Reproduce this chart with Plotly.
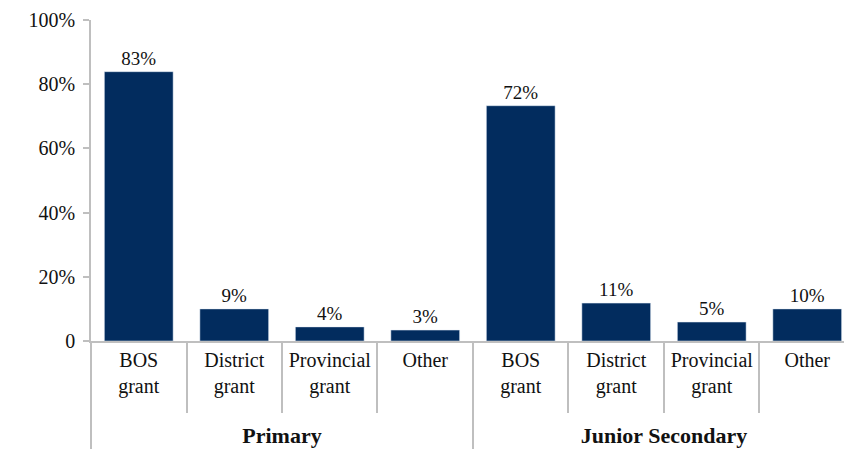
import plotly.graph_objects as go

groups = ["Primary"] * 4 + ["Junior Secondary"] * 4
categories = ["BOS<br>grant<br> ", "District<br>grant<br> ", "Provincial<br>grant<br> ", "Other"] * 2
values = [83.9, 10.0, 4.4, 3.4, 73.3, 11.8, 5.9, 10.0]
value_labels = ["83%", "9%", "4%", "3%", "72%", "11%", "5%", "10%"]
y_ticks = [0, 20, 40, 60, 80, 100]
y_tick_text = ["0", "20%", "40%", "60%", "80%", "100%"]

FONT = "Liberation Serif"
GRAY = "#BFBFBF"
NAVY = "#022C5E"

group_labels = [f'<span style="font-size:22px"><b>{g}</b></span>' for g in groups]

fig = go.Figure(
    go.Bar(
        x=[group_labels, categories],
        y=values,
        text=value_labels,
        textposition="outside",
        textfont=dict(family=FONT, size=19, color="#111111"),
        marker_color=NAVY,
        cliponaxis=False,
    )
)

fig.update_layout(
    width=844,
    height=455,
    margin=dict(l=91, r=0, t=20, b=114),
    plot_bgcolor="white",
    paper_bgcolor="white",
    bargap=0.28,
    showlegend=False,
    font=dict(family=FONT, size=20, color="#111111"),
)

fig.update_yaxes(
    range=[0, 100],
    tickvals=y_ticks,
    ticktext=y_tick_text,
    showgrid=False,
    zeroline=False,
    showline=True,
    linecolor=GRAY,
    linewidth=1.5,
    ticks="outside",
    ticklen=6,
    tickcolor=GRAY,
    tickwidth=1.5,
    ticklabelstandoff=4,
    tickfont=dict(family=FONT, size=20),
    automargin=False,
)

fig.update_xaxes(
    type="multicategory",
    range=[-0.5, 7.385],
    showgrid=False,
    showline=True,
    linecolor=GRAY,
    linewidth=1.5,
    ticks="outside",
    tickson="boundaries",
    ticklen=70,
    tickcolor=GRAY,
    tickwidth=1.5,
    showdividers=True,
    dividercolor=GRAY,
    dividerwidth=1.5,
    tickfont=dict(family=FONT, size=20),
    automargin=False,
)

fig.write_html(
    "out.html",
    config={"displayModeBar": False},
    post_script="document.body.style.margin='0';",
)
